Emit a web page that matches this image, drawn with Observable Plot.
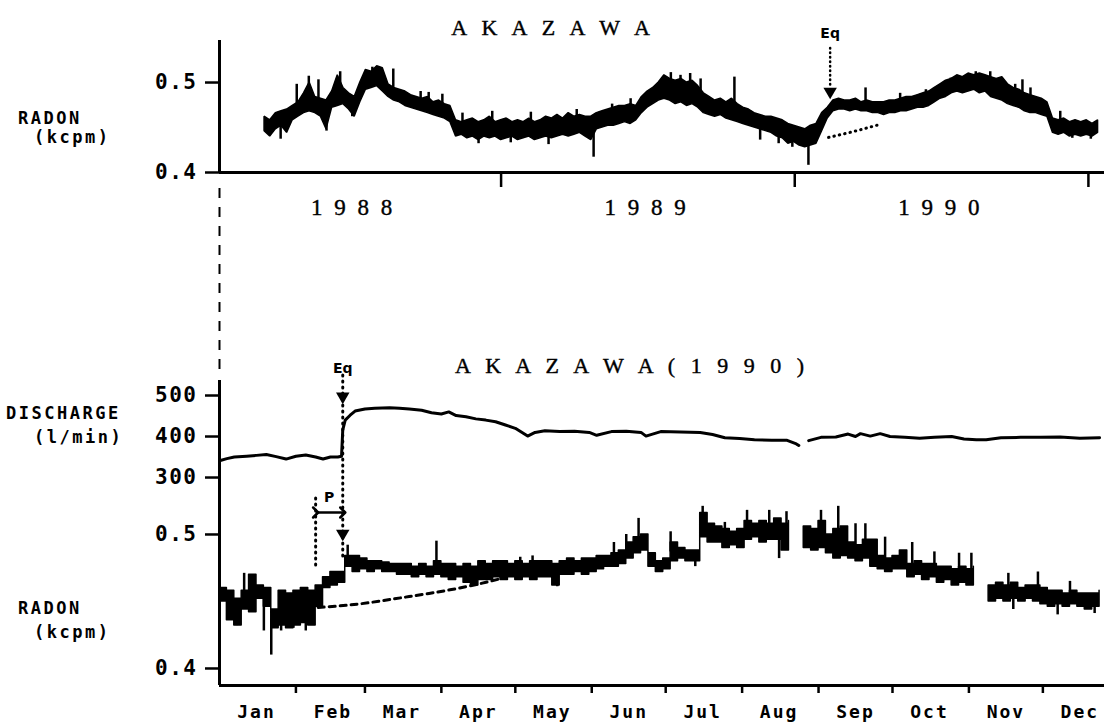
<!DOCTYPE html>
<html><head><meta charset="utf-8">
<script src="https://cdn.jsdelivr.net/npm/d3@7"></script>
<script src="https://cdn.jsdelivr.net/npm/@observablehq/plot@0.6"></script>
<style>
html,body{margin:0;padding:0;background:#fff;}
#wrap{position:relative;width:1104px;height:724px;overflow:hidden;background:#fff;}
#topc,#botc{position:absolute;left:0;width:1104px;}
#topc{top:0;} #botc{top:352px;}
#wrap svg{overflow:visible;background:transparent;}
.lbl{position:absolute;font-family:"DejaVu Sans Mono",monospace;font-weight:bold;font-size:17px;letter-spacing:2.5px;color:#000;white-space:pre;line-height:1;transform:translateY(-50%);}
.ttl{position:absolute;font-family:"Liberation Serif",serif;font-size:22px;letter-spacing:5px;color:#000;white-space:pre;line-height:1;transform:translate(-50%,-50%);-webkit-text-stroke:0.4px #000;}
g[aria-label="y-axis tick label"] text{letter-spacing:1.5px;}
#botc g[aria-label="x-axis tick label"] text{letter-spacing:2px;}
#topc g[aria-label="x-axis tick label"] text{letter-spacing:3px;stroke:#000;stroke-width:0.4px;}
</style></head>
<body><div id="wrap"><div id="topc"></div><div id="botc"></div></div>
<script>
// ---------------- DATA ----------------
// Top panel: weekly low / high envelope of radon (kcpm), starting 1988-03-13
const topStartDate = "1988-03-13";
const topLo = [
0.446,0.440,0.448,0.452,0.444,0.458,0.462,0.466,0.468,0.466,
0.462,0.448,0.472,0.474,0.476,0.470,0.462,0.478,0.492,0.494,
0.496,0.490,0.484,0.480,0.478,0.474,0.472,0.470,0.468,0.466,
0.464,0.462,0.460,0.456,0.440,0.442,0.438,0.440,0.436,0.440,
0.438,0.440,0.436,0.438,0.440,0.436,0.438,0.440,0.436,0.438,
0.440,0.438,0.440,0.442,0.440,0.442,0.444,0.440,0.436,0.448,
0.450,0.452,0.452,0.454,0.456,0.454,0.458,0.466,0.472,0.476,
0.480,0.482,0.480,0.476,0.478,0.474,0.476,0.472,0.466,0.464,
0.462,0.464,0.460,0.458,0.456,0.454,0.452,0.450,0.448,0.446,
0.444,0.440,0.438,0.432,0.434,0.430,0.428,0.430,0.432,0.446,
0.460,0.468,0.470,0.470,0.468,0.470,0.468,0.468,0.466,0.466,
0.464,0.466,0.466,0.468,0.468,0.470,0.472,0.472,0.474,0.478,
0.482,0.484,0.488,0.490,0.488,0.490,0.492,0.488,0.490,0.484,
0.482,0.480,0.476,0.474,0.472,0.468,0.466,0.466,0.464,0.462,
0.444,0.442,0.444,0.440,0.442,0.440,0.442,0.440,0.444];
const topHi = [
0.462,0.458,0.466,0.468,0.470,0.474,0.478,0.488,0.500,0.484,
0.482,0.480,0.490,0.508,0.494,0.488,0.484,0.500,0.514,0.512,
0.518,0.516,0.498,0.494,0.492,0.490,0.486,0.484,0.482,0.484,
0.478,0.480,0.476,0.474,0.458,0.456,0.458,0.460,0.456,0.458,
0.462,0.456,0.458,0.460,0.456,0.458,0.456,0.460,0.456,0.458,
0.462,0.460,0.464,0.460,0.466,0.462,0.464,0.462,0.462,0.466,
0.468,0.470,0.472,0.474,0.474,0.476,0.474,0.484,0.490,0.494,
0.500,0.508,0.504,0.502,0.504,0.500,0.502,0.496,0.488,0.484,
0.480,0.482,0.478,0.482,0.476,0.472,0.470,0.466,0.464,0.462,
0.462,0.460,0.458,0.454,0.452,0.450,0.448,0.452,0.454,0.466,
0.472,0.480,0.482,0.480,0.480,0.482,0.478,0.480,0.478,0.478,
0.478,0.480,0.480,0.482,0.484,0.484,0.486,0.488,0.490,0.494,
0.498,0.502,0.504,0.508,0.506,0.510,0.508,0.510,0.508,0.506,
0.504,0.506,0.498,0.494,0.492,0.488,0.486,0.484,0.482,0.478,
0.460,0.458,0.460,0.456,0.458,0.456,0.458,0.454,0.458];
const topSpikeDates = ["1988-04-02","1988-04-22","1988-05-07","1988-05-19","1988-05-29","1988-06-15","1988-06-30",
  "1988-07-25","1988-08-20","1988-09-23","1988-10-03","1988-10-20","1988-11-14","1988-12-04","1988-12-21",
  "1989-01-13","1989-02-07","1989-03-01","1989-04-05","1989-04-26","1989-05-19","1989-06-11","1989-07-31",
  "1989-08-12","1989-08-24","1989-09-06","1989-09-21","1989-10-18","1989-11-07","1989-11-19","1989-12-12",
  "1989-12-29","1990-01-18","1990-03-30","1990-05-12","1990-06-13","1990-07-14","1990-08-14","1990-09-01",
  "1990-10-02","1990-10-11","1990-10-21","1990-11-27","1990-12-12","1991-01-04"];
const topSpikeVals  = [0.437,0.498,0.507,0.503,0.446,0.512,0.462,
  0.517,0.515,0.490,0.489,0.487,0.466,0.432,0.468,
  0.433,0.467,0.431,0.470,0.417,0.476,0.482,0.511,
  0.508,0.510,0.504,0.470,0.506,0.468,0.436,0.432,
  0.428,0.408,0.494,0.488,0.492,0.505,0.512,0.512,
  0.498,0.503,0.494,0.468,0.438,0.437];
const topTrendDates = ["1990-02-12","1990-03-17","1990-04-19"];
const topTrendVals  = [0.439,0.446,0.454];
const topYTicks = [0.4, 0.5];
const topYears = [1988, 1989, 1990];
const topEqDate = "1990-02-14";

// Bottom panel (1990): radon low / high every 3 days from Jan 1 (null = gap)
const botStartDate = "1990-01-01";
const botLo = [
0.450,0.436,0.432,0.444,0.442,0.452,0.446,0.430,0.432,0.430,
0.432,0.434,0.432,0.446,0.460,0.462,0.464,0.476,0.472,0.474,
0.472,0.474,0.472,0.472,0.470,0.470,0.468,0.470,0.468,0.470,
0.468,0.466,0.468,0.464,0.462,0.466,0.466,0.468,0.466,0.468,
0.466,0.468,0.466,0.468,0.468,0.462,0.470,0.470,0.472,0.470,
0.472,0.474,0.476,0.476,0.478,0.482,0.486,0.488,0.476,0.472,
0.474,0.480,0.482,0.480,0.480,0.498,0.494,0.494,0.490,0.492,
0.490,0.496,0.498,0.494,0.496,0.496,0.488,0.496,null,0.490,
0.488,0.490,0.486,0.482,0.484,0.482,0.480,0.482,0.476,0.474,
0.472,0.474,0.474,0.468,0.470,0.466,0.468,0.464,0.466,0.462,
0.464,0.462,0.464,null,0.450,0.452,0.450,0.452,0.450,0.452,
0.450,0.448,0.446,0.448,0.446,0.448,0.446,0.444,0.446,0.448];
const botHi = [
0.460,0.458,0.452,0.458,0.470,0.462,0.460,0.444,0.458,0.456,
0.458,0.460,0.458,0.462,0.468,0.472,0.472,0.484,0.484,0.482,
0.480,0.480,0.479,0.478,0.478,0.478,0.476,0.478,0.476,0.480,
0.478,0.478,0.476,0.478,0.476,0.480,0.478,0.480,0.480,0.478,
0.480,0.478,0.480,0.480,0.480,0.478,0.480,0.482,0.480,0.482,
0.482,0.484,0.484,0.486,0.488,0.494,0.498,0.500,0.486,0.480,
0.482,0.494,0.490,0.488,0.488,0.516,0.508,0.506,0.504,0.502,
0.504,0.510,0.508,0.510,0.508,0.512,0.508,0.510,null,0.506,
0.504,0.510,0.500,0.504,0.506,0.494,0.492,0.496,0.496,0.484,
0.482,0.484,0.488,0.478,0.480,0.478,0.478,0.476,0.476,0.474,
0.476,0.474,0.476,null,0.462,0.464,0.462,0.464,0.460,0.462,
0.462,0.460,0.458,0.458,0.456,0.458,0.456,0.456,0.456,0.458];
const botSpikeDays = [7,10,18,21,25,30,35,52,88,122,127,137,160,165,170,183,193,196,205,214,223,227,230,
  244,251,258,262,270,281,290,300,305,320,322,332,340,345,355];
const botSpikeVals = [0.432,0.471,0.428,0.410,0.428,0.430,0.428,0.492,0.495,0.483,0.484,0.461,0.494,0.500,0.512,0.502,0.476,0.521,0.509,0.518,0.518,0.482,0.517,
  0.518,0.521,0.508,0.508,0.498,0.494,0.487,0.486,0.486,0.471,0.444,0.472,0.440,0.465,0.441];
const botTrendDays = [40,56,71,85,100,114];
const botTrendVals = [0.4455,0.448,0.452,0.456,0.461,0.467];

// Discharge (l/min), day of 1990
const dischargeDays = [0,3,6,11,15,19,23,27,31,35,39,42,45,48,49.5,50,51,53,55,59,
63,69,73,77,82,86,90,93,96,100,104,108,112,116,120,125,128,132,138,144,
150,153,159,165,171,173,179,187,195,200,205,211,217,224,230,234,235,236,239,244,
250,255,258,260,264,268,272,278,284,290,297,302,307,311,317,325,333,341,349,357];
const dischargeVals = [341,346,350,352,354,356,351,345,352,355,350,345,350,350,352,416,440,452,462,467,
469,470,469,467,464,458,455,460,451,448,443,440,436,428,420,401,410,414,412,413,
410,403,412,413,410,401,412,411,410,405,397,395,392,391,391,382,378,null,390,398,
399,406,400,407,401,407,400,398,396,398,400,394,392,392,397,398,398,399,396,397];
const dischargeTicks = [300, 400, 500];
const radonTicks = [0.4, 0.5];
const monthNames = ["Jan","Feb","Mar","Apr","May","Jun","Jul","Aug","Sep","Oct","Nov","Dec"];
const eqDay = 50;      // 20 Feb 1990
const pStartDay = 39;  // start of precursor P

// ---------------- BUILD ----------------
const DAY = 864e5;
const utc = s => new Date(s + "T00:00:00Z");
const monoFont = "DejaVu Sans Mono";

// discharge is drawn on the radon-unit y scale of the lower panel
const dRef = 300, dRefY = 0.5425, dPerUnit = 0.000306;
const dToY = d => d == null ? NaN : dRefY + (d - dRef) * dPerUnit;

// top
const topStart = utc(topStartDate);
const topBand = topLo.map((lo, i) => ({t: new Date(topStart.getTime() + i * 7 * DAY), lo, hi: topHi[i]}));
const topSpikes = topSpikeDates.map((s, i) => {
  const t = utc(s);
  const k = Math.max(0, Math.min(topLo.length - 1, Math.round((t - topStart) / (7 * DAY))));
  return {t, v: topSpikeVals[i], base: (topLo[k] + topHi[k]) / 2};
});
const topTrend = topTrendDates.map((s, i) => ({t: utc(s), v: topTrendVals[i]}));
const topDomain = [utc("1988-01-17"), utc("1991-01-21")];
const yearStarts = [1989, 1990, 1991].map(y => new Date(Date.UTC(y, 0, 1)));
const yearMids = topYears.map(y => new Date(Date.UTC(y, 6, 1)));
const tEq = utc(topEqDate);

const topPlot = Plot.plot({
  width: 1104, height: 372,
  marginLeft: 219, marginRight: 0, marginTop: 40, marginBottom: 200,
  x: {type: "utc", domain: topDomain},
  y: {domain: [0.4, 0.5467]},
  style: {background: "transparent", overflow: "visible", color: "black", fontFamily: monoFont, fontSize: "21px", fontWeight: "bold"},
  marks: [
    Plot.axisY(topYTicks, {tickSize: 14, tickPadding: 8, tickFormat: d3.format(".1f"), strokeWidth: 2.5, fontSize: 21, fontFamily: monoFont, fontWeight: "bold", label: null}),
    Plot.axisX(yearStarts, {tickSize: 15, tickFormat: () => "", strokeWidth: 2.5, label: null}),
    Plot.axisX(yearMids, {tickSize: 0, tickPadding: 26, tickFormat: d => String(d.getUTCFullYear()).split("").join(" "), fontFamily: "Liberation Serif", fontSize: 23, fontWeight: "normal", label: null}),
    Plot.ruleY([0.4], {strokeWidth: 3}),
    Plot.ruleX([topDomain[0]], {strokeWidth: 3}),
    Plot.ruleX([topDomain[0]], {y1: 0.3822, y2: 0.18, strokeWidth: 2, strokeDasharray: "10,9"}),
    Plot.areaY(topBand, {x: "t", y1: "lo", y2: "hi", fill: "black", stroke: "black", strokeWidth: 1.5, strokeLinejoin: "miter"}),
    Plot.ruleX(topSpikes, {x: "t", y1: "v", y2: "base", strokeWidth: 2.5}),
    Plot.line(topTrend, {x: "t", y: "v", strokeWidth: 3, strokeDasharray: "0.5,5", strokeLinecap: "round", curve: "natural"}),
    Plot.ruleX([tEq], {y1: 0.5378, y2: 0.4956, strokeWidth: 2.5, strokeDasharray: "0.5,4", strokeLinecap: "round"}),
    Plot.dot([tEq], {x: d => d, y: 0.49, symbol: "triangle", rotate: 180, r: 5, fill: "black", stroke: "none"}),
    Plot.text([tEq], {x: d => d, y: 0.5544, text: () => "Eq", fontFamily: "DejaVu Sans", fontWeight: "bold", fontSize: 14})
  ]
});
document.getElementById("topc").appendChild(topPlot);

// bottom
const botStart = utc(botStartDate);
const dayToDate = d => new Date(botStart.getTime() + d * DAY);
const botBand = botLo.map((lo, i) => ({t: dayToDate(i * 3), lo: lo == null ? NaN : lo, hi: botHi[i] == null ? NaN : botHi[i]}));
const botSpikes = botSpikeDays.map((d, i) => {
  const k = Math.min(botLo.length - 1, Math.round(d / 3));
  const base = botLo[k] == null ? botSpikeVals[i] : (botLo[k] + botHi[k]) / 2;
  return {t: dayToDate(d), v: botSpikeVals[i], base};
});
const botTrend = botTrendDays.map((d, i) => ({t: dayToDate(d), v: botTrendVals[i]}));
const disPts = dischargeDays.map((d, i) => ({t: dayToDate(d), v: dToY(dischargeVals[i])}));
const monthStarts = d3.range(1, 12).map(m => new Date(Date.UTC(1990, m, 1)));
const monthMids = d3.range(0, 12).map(m => new Date(Date.UTC(1990, m, 16)));
const eqDate = dayToDate(eqDay), pDate = dayToDate(pStartDay);
const botDomain = [botStart, utc("1990-12-26")];

const botPlot = Plot.plot({
  width: 1104, height: 372,
  marginLeft: 219, marginRight: 0, marginTop: 28, marginBottom: 39,
  x: {type: "utc", domain: botDomain},
  y: {domain: [0.3873, 0.6149]},
  style: {background: "transparent", overflow: "visible", color: "black", fontFamily: monoFont, fontSize: "21px", fontWeight: "bold"},
  marks: [
    Plot.axisY(radonTicks, {tickSize: 14, tickPadding: 8, tickFormat: d3.format(".1f"), strokeWidth: 2.5, fontSize: 21, fontFamily: monoFont, fontWeight: "bold", label: null}),
    Plot.axisY(dischargeTicks.map(dToY), {tickSize: 14, tickPadding: 8, tickFormat: y => String(Math.round(dRef + (y - dRefY) / dPerUnit)), strokeWidth: 2.5, fontSize: 21, fontFamily: monoFont, fontWeight: "bold", label: null}),
    Plot.axisX(monthStarts, {tickSize: 8, tickFormat: () => "", strokeWidth: 2.5, label: null}),
    Plot.axisX(monthMids, {tickSize: 0, tickPadding: 20, tickFormat: (d) => monthNames[d.getUTCMonth()], fontFamily: monoFont, fontSize: 18, fontWeight: "bold", label: null}),
    Plot.ruleY([0.3873], {strokeWidth: 3}),
    Plot.ruleX([botStart], {strokeWidth: 3}),
    Plot.line(disPts, {x: "t", y: "v", strokeWidth: 3}),
    Plot.areaY(botBand, {x: "t", y1: "lo", y2: "hi", fill: "black", stroke: "black", strokeWidth: 1.5, curve: "step-after"}),
    Plot.ruleX(botSpikes, {x: "t", y1: "v", y2: "base", strokeWidth: 2.5}),
    Plot.line(botTrend, {x: "t", y: "v", strokeWidth: 3, strokeDasharray: "6,5", curve: "natural"}),
    Plot.ruleX([eqDate], {y1: 0.6187, y2: 0.4828, strokeWidth: 3, strokeDasharray: "1,5", strokeLinecap: "round"}),
    Plot.ruleX([pDate], {y1: 0.5269, y2: 0.4769, strokeWidth: 3, strokeDasharray: "1,5", strokeLinecap: "round"}),
    Plot.link([{a: pDate, b: eqDate, y: 0.5164}], {x1: "a", x2: "b", y1: "y", y2: "y", strokeWidth: 2.5, markerStart: "arrow", markerEnd: "arrow"}),
    Plot.dot([{t: eqDate, v: 0.603}, {t: eqDate, v: 0.5007}], {x: "t", y: "v", symbol: "triangle", rotate: 180, r: 5, fill: "black", stroke: "none"}),
    Plot.text([{t: eqDate, v: 0.6239, s: "Eq"}, {t: dayToDate((eqDay + pStartDay) / 2), v: 0.5276, s: "P"}], {x: "t", y: "v", text: "s", fontFamily: "DejaVu Sans", fontWeight: "bold", fontSize: 14})
  ]
});
document.getElementById("botc").appendChild(botPlot);

// titles and axis names
const wrap = document.getElementById("wrap");
function addDiv(cls, text, x, y) {
  const d = document.createElement("div");
  d.className = cls; d.textContent = text;
  d.style.left = x + "px"; d.style.top = y + "px";
  wrap.appendChild(d);
}
addDiv("ttl", "A K A Z A W A", 553, 28);
addDiv("ttl", "A K A Z A W A ( 1 9 9 0 )", 632, 366);
addDiv("lbl", "RADON", 18, 118);
addDiv("lbl", "(kcpm)", 34, 137);
addDiv("lbl", "DISCHARGE", 6, 413);
addDiv("lbl", "(l/min)", 34, 437);
addDiv("lbl", "RADON", 18, 608);
addDiv("lbl", "(kcpm)", 34, 632);
</script></body></html>
